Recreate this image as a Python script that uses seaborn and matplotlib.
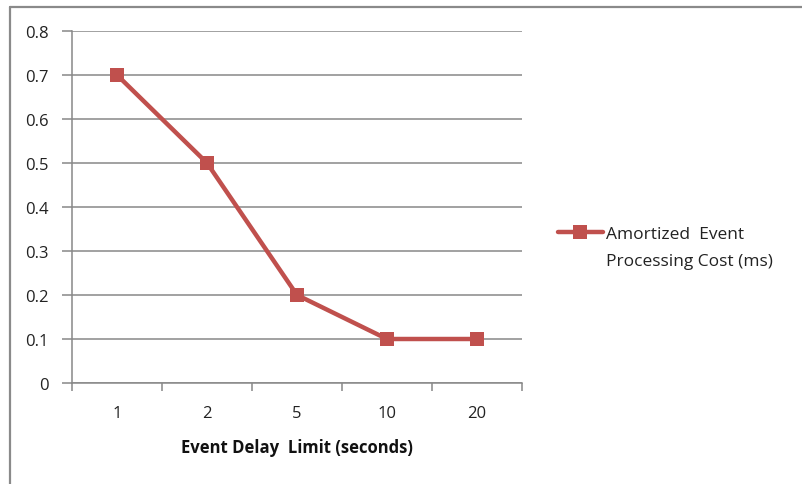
import matplotlib
matplotlib.use("Agg")
import matplotlib.pyplot as plt
from matplotlib.lines import Line2D
from matplotlib.ticker import FixedLocator, NullFormatter
import seaborn as sns
import pandas as pd

delay_limits = ["1", "2", "5", "10", "20"]
processing_cost = [0.7, 0.5, 0.2, 0.1, 0.1]
y_ticks = [0, 0.1, 0.2, 0.3, 0.4, 0.5, 0.6, 0.7, 0.8]
series_label_lines = ["Amortized  Event", "Processing Cost (ms)"]

sns.set_theme(style="white")
plt.rcParams["font.family"] = ["Open Sans", "DejaVu Sans"]

df = pd.DataFrame({
    "pos": list(range(len(delay_limits))),
    "cost": processing_cost,
    "series": series_label_lines[0],
})

red = "#C0504D"
grid_gray = "#888888"
text_color = "#222222"
tick_fs = 12
legend_fs = 12.5

fig = plt.figure(figsize=(8.02, 4.85), dpi=100)
ax = fig.add_axes([72 / 802, 1 - 384 / 485, 450 / 802, 352 / 485])

sns.lineplot(data=df, x="pos", y="cost", hue="series", palette=[red],
             marker="s", markersize=10, markeredgewidth=0, linewidth=3.2, ax=ax)

ax.set_xlim(-0.5, len(delay_limits) - 0.5)
ax.set_ylim(0, 0.8)
ax.set_yticks(y_ticks)
ax.set_yticklabels([f"{v:g}" for v in y_ticks], fontsize=tick_fs, color=text_color)
ax.yaxis.grid(True, color=grid_gray, linewidth=1.1)
ax.set_axisbelow(True)

# Tick marks sit between categories; labels sit under each category.
ax.xaxis.set_major_locator(FixedLocator([i - 0.5 for i in range(len(delay_limits) + 1)]))
ax.xaxis.set_major_formatter(NullFormatter())
ax.set_xticks(list(range(len(delay_limits))), labels=delay_limits, minor=True,
              fontsize=tick_fs, color=text_color)
ax.tick_params(axis="x", which="major", length=6, width=1.1, color=grid_gray, direction="out", bottom=True)
ax.tick_params(axis="x", which="minor", length=0, pad=16)
ax.tick_params(axis="y", length=7, width=1.1, color=grid_gray, direction="out", left=True, pad=10)

for side in ["top", "right"]:
    ax.spines[side].set_visible(False)
for side in ["left", "bottom"]:
    ax.spines[side].set_color(grid_gray)
    ax.spines[side].set_linewidth(1.1)

ax.set_xlabel("Event Delay  Limit (seconds)", fontsize=12, fontweight="bold",
              labelpad=12, color="#111111")
ax.set_ylabel("")

handles, labels = ax.get_legend_handles_labels()
leg = ax.legend(handles=handles, labels=labels, loc="center left",
                bbox_to_anchor=(549 / 802, 1 - 235 / 485), bbox_transform=fig.transFigure,
                frameon=False, fontsize=legend_fs, handlelength=2.6, handletextpad=0.2,
                borderpad=0)
for t in leg.get_texts():
    t.set_color(text_color)

# Second line of the series label, aligned under the legend text
fig.canvas.draw()
text_bbox = leg.get_texts()[0].get_window_extent()
fig.text(text_bbox.x0 / fig.bbox.width, 1 - 262 / 485, series_label_lines[1],
         fontsize=legend_fs, color=text_color, va="center", ha="left")

# Frame around the chart area
fig.add_artist(Line2D([10 / 802, 10 / 802], [0, 1 - 8 / 485], transform=fig.transFigure,
                      color="#8a8a8a", linewidth=1.6))
fig.add_artist(Line2D([10 / 802, 1], [1 - 8 / 485, 1 - 8 / 485], transform=fig.transFigure,
                      color="#8a8a8a", linewidth=1.6))

fig.savefig("out.png", dpi=100)
